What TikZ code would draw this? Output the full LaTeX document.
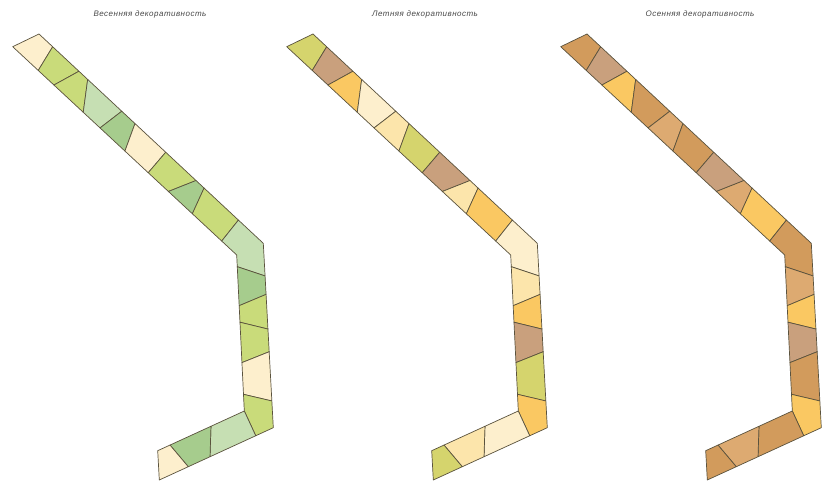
\documentclass[tikz,border=0pt]{standalone}
\usepackage{fontspec}
\usetikzlibrary{calc}
\newfontfamily\titlefont[LetterSpace=6]{Liberation Sans}
\definecolor{edge}{HTML}{5A523D}
\definecolor{cream}{HTML}{FDEFCD}
\definecolor{lime}{HTML}{C9DB7A}
\definecolor{sage}{HTML}{C6DFB3}
\definecolor{moss}{HTML}{A6CC8D}
\definecolor{olive}{HTML}{D5D46D}
\definecolor{tan}{HTML}{C9A07D}
\definecolor{amber}{HTML}{FAC862}
\definecolor{butter}{HTML}{FCE5AB}
\definecolor{ochre}{HTML}{D29B5C}
\definecolor{fawn}{HTML}{DDAA71}

\begin{document}
\begin{tikzpicture}[
    x=1pt, y=-1pt,
    cell/.style ={draw=edge, line width=0.7pt, line join=round},
    title/.style={font=\titlefont\itshape\fontsize{8}{9}\selectfont,
                  text=black!72, inner sep=0pt},
]
\useasboundingbox (0,0) rectangle (827,486);

\node[title] (spring) at (150,14) {Весенняя декоративность};
\node[title] (summer) at (425,14) {Летняя декоративность};
\node[title] (autumn) at (700,14) {Осенняя декоративность};

% same bed outline three times, only the colours change
\foreach \sx/\cols in {
    0/{cream,lime,lime,sage,moss,cream,lime,moss,lime,sage,moss,lime,lime,cream,lime,sage,moss,cream},
    274/{olive,tan,amber,cream,butter,olive,tan,butter,amber,cream,butter,amber,tan,olive,amber,cream,butter,olive},
    548/{ochre,tan,amber,ochre,fawn,ochre,tan,fawn,amber,ochre,fawn,amber,tan,ochre,amber,ochre,fawn,ochre}}{
  \begin{scope}[xshift=\sx]
    % outer corners of the strip
    \coordinate (U0) at (39,34);     \coordinate (L0) at (12.7,46.7);
    \coordinate (U1) at (263.3,243.3); \coordinate (L1) at (236.7,255);
    \coordinate (U2) at (273.3,427.7); \coordinate (L2) at (244.3,411);
    \coordinate (U3) at (159.3,480);   \coordinate (L3) at (157.7,450.7);
    \coordinate (u0) at (U0); \coordinate (l0) at (L0);
    % cell borders along both edges
    \foreach \t [count=\k] in {.061,.178,.217,.369,.428,.565,.700,.736,.889}
      \coordinate (u\k) at ($(U0)!\t!(U1)$);
    \foreach \t [count=\k] in {.114,.184,.315,.390,.501,.605,.695,.802,.933}
      \coordinate (l\k) at ($(L0)!\t!(L1)$);
    \foreach \t [count=\k from 10] in {.177,.277,.465,.588,.855}
      \coordinate (u\k) at ($(U1)!\t!(U2)$);
    \foreach \t [count=\k from 10] in {.075,.325,.431,.690,.893}
      \coordinate (l\k) at ($(L1)!\t!(L2)$);
    \foreach \t [count=\k from 15] in {.154,.555,.746}
      \coordinate (u\k) at ($(U2)!\t!(U3)$);
    \coordinate (l15) at (L2);
    \foreach \t [count=\k from 16] in {.385,.858}
      \coordinate (l\k) at ($(L2)!\t!(L3)$);
    \coordinate (u18) at (U3); \coordinate (l18) at (L3);
    \foreach \k in {1,...,18}{
      \pgfmathtruncatemacro\j{\k-1}
      \coordinate (c\k) at ($(u\j)!.5!(u\k)$);
      \coordinate (d\k) at ($(l\j)!.5!(l\k)$);
    }
    \coordinate (c10) at (U1); \coordinate (d10) at (L1);
    \coordinate (c15) at (U2);
    \foreach \col [count=\k] in \cols {
      \pgfmathtruncatemacro\j{\k-1}
      \filldraw[cell, fill=\col] (u\j) -- (c\k) -- (u\k) -- (l\k) -- (d\k) -- (l\j) -- cycle;
    }
  \end{scope}
}
\end{tikzpicture}
\end{document}
